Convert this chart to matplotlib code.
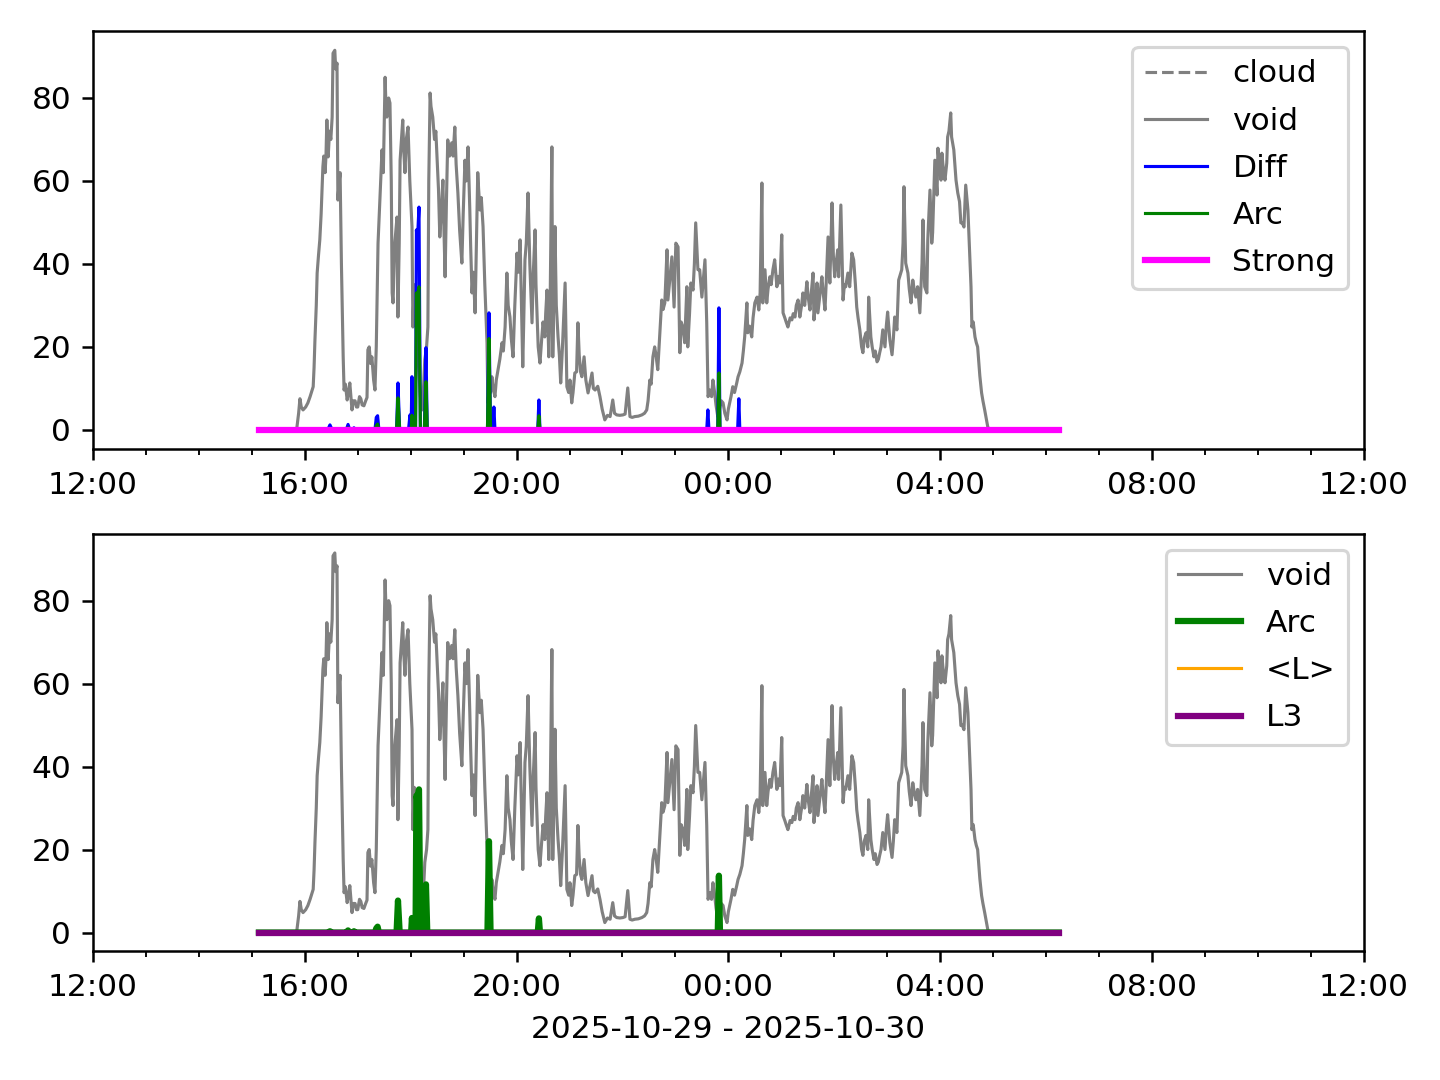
import matplotlib
matplotlib.use("Agg")
import matplotlib.pyplot as plt
import matplotlib.dates as mdates
import pandas as pd

# ---- data (minutes after 2025-10-29 12:00, value) ----
void_samples = [
    (188, 0), (229, 0), (231, 0.5), (233, 4), (234.5, 7.5), (236, 5.5), (238, 4.8), (241, 5.5),
    (243.5, 6.5), (246, 8), (249.5, 10.4), (250.5, 15), (251.5, 21.7), (253, 30), (254, 37.8),
    (255.5, 42), (257, 45.8), (258.5, 52), (260.5, 63.4), (261.5, 66), (263, 62), (264, 66),
    (265, 74.7), (266.5, 65.8), (268, 72), (269.5, 70), (271, 75.4), (272, 90.8), (274, 91.5),
    (275, 87), (276.5, 88.4), (277.5, 55.4), (279, 60), (280, 62), (281.5, 40), (283.5, 17.6),
    (284.5, 9.6), (286, 11), (288, 7.2), (289.5, 9), (291, 11.3), (293.5, 4.8), (295, 7),
    (297, 7), (298.5, 5.5), (300, 5.5), (302, 8), (303.5, 7.5), (305, 6), (307, 5.8), (309, 7),
    (310.5, 7.8), (311.5, 19.3), (313, 20), (314.5, 16), (316, 17.6), (318, 12), (319.5, 9.6),
    (321, 20), (323, 45), (325, 55), (327.5, 67.5), (329, 62), (331, 85), (332, 78), (333, 75.4),
    (335, 80), (336.5, 78.8), (338, 60), (339, 33), (340, 30.6), (342, 45), (344.5, 51.3),
    (345.5, 27.2), (347, 45), (348, 65), (349.5, 70), (351, 74.7), (352, 68), (353.5, 62),
    (355, 70), (357, 73), (359, 60), (361.5, 48.9), (362.5, 24.8), (364, 35), (365.5, 30),
    (367, 21), (369, 15), (371, 8), (373, 4.8), (374.5, 10), (376, 16.9), (378, 20), (379.5, 24.8),
    (380.5, 60), (382, 81.2), (383, 78), (385, 75.4), (387, 70), (388.5, 72), (390, 65), (391.5, 58),
    (393, 46.5), (394.5, 52), (396.5, 60.2), (397.5, 50), (399, 36.9), (400.5, 55), (402, 69.9),
    (404, 66), (406.5, 69.2), (408, 66), (410, 73), (411.5, 64), (413.5, 57.1), (415.5, 48),
    (418, 40.2), (419.5, 52), (421.5, 65), (423, 60), (425, 68.2), (427, 53), (428, 44), (429.5, 33),
    (431, 38), (433, 28.2), (434.5, 45), (436, 62), (437, 58), (438.5, 53), (440, 56), (442, 49),
    (444, 35), (446.5, 21), (447.5, 6.5), (449, 10), (450.5, 9), (452, 12.8), (453.5, 10),
    (455.5, 8), (457, 12), (459, 14.5), (461, 17), (463.5, 21), (465, 19), (467, 24.8), (469, 37.8),
    (470.5, 30), (472.5, 27.2), (474, 22), (476, 17.6), (478, 30), (480.5, 42.6), (482, 38),
    (484, 45.8), (485.5, 30), (487, 15.2), (488, 25), (489.5, 41), (491, 45), (493, 57.1),
    (495, 40), (497.5, 25.8), (499, 38), (501, 48.2), (502, 35), (503, 28.9), (504.5, 20),
    (506.5, 16.1), (508.5, 22), (510, 26), (512, 22.4), (513, 28), (514.5, 33.7), (516.5, 17.6),
    (518, 30), (520, 68.2), (521, 17.6), (522, 30), (523.5, 49), (525, 30), (527, 22.4), (528.5, 18),
    (530, 11.3), (532, 20), (535, 35.4), (537, 10.4), (539, 9), (540.5, 12), (542.5, 6.5),
    (544, 9), (546, 13.7), (548, 14), (549.5, 25.8), (551, 18), (552.5, 14), (554, 12.8),
    (556.5, 17.6), (558.5, 12), (561, 8.9), (563, 11), (565.5, 13.7), (567, 10), (569, 9.6),
    (572, 10.5), (574.5, 8), (577, 5), (580, 2.4), (583, 3.5), (586, 3.2), (589, 7.2), (591, 4),
    (593.5, 3.6), (597, 3.5), (600.5, 3.6), (603, 3.8), (606, 10.1), (608.5, 3.2), (611, 3),
    (614, 3.2), (618, 3.3), (622, 3.6), (625, 4), (627.5, 4.8), (629, 7), (631, 12), (632.5, 11),
    (634.5, 17.6), (636.5, 20), (638, 18), (640, 14.5), (642, 22), (644.5, 31.3), (646, 29),
    (648, 30.6), (650.5, 43.4), (651.5, 31.3), (653.5, 36), (656, 41.7), (658.5, 29.6), (660.5, 45),
    (663, 44.1), (665, 18.6), (666.5, 26), (668.5, 24.8), (670.5, 21), (673, 34.5), (674, 20),
    (676, 28), (677.5, 35.4), (680, 33.7), (681.5, 40), (683, 49.9), (685.5, 38.6), (687.5, 38.6),
    (690, 32), (691.5, 36), (693.5, 41), (695.5, 25.8), (697, 8), (699, 9.6), (701, 8), (702.5, 12),
    (704.5, 8.9), (706, 6), (708, 3.2), (710, 5), (712, 7), (714, 6.5), (716, 4), (718.5, 2.4),
    (720, 5), (721.5, 6.5), (723, 8), (725, 10.4), (727, 9), (729.5, 11.3), (731, 12.8), (733, 14),
    (735.5, 16.1), (737, 19), (738.5, 22.4), (741, 30.6), (742, 23.4), (744, 25), (746.5, 22.4),
    (748, 27), (750, 30.6), (752.5, 32), (754.5, 28.9), (756, 33), (758, 59.5), (759, 30.6),
    (761.5, 38.6), (763.5, 30.6), (765, 34), (767, 36.9), (768.5, 35), (770.5, 38.6), (772.5, 41),
    (775, 34.5), (776.5, 37), (778.5, 35.4), (780.5, 47), (782, 28.2), (784, 27), (785.5, 26),
    (787.5, 24.8), (790, 27), (792, 26.5), (793.5, 28), (795.5, 27.2), (797, 30), (799, 31.3),
    (801, 27.2), (803, 30), (804.5, 33), (806.5, 30), (809, 35.7), (810.5, 32), (812.5, 28.9),
    (814, 33), (816, 37.8), (817, 26.5), (819, 31), (820.5, 35.4), (821.5, 28.2), (824, 33),
    (826, 36.9), (827.5, 33), (829.5, 28.9), (831, 36), (833, 46.5), (835, 35.4), (837.5, 54.7),
    (839, 42), (840.5, 36.9), (842, 40), (844, 43.4), (845, 36.9), (847.5, 54.2), (850, 31.3),
    (851.5, 35), (853, 34.5), (855.5, 37.8), (857.5, 34.5), (860, 42.6), (862, 41), (864, 35),
    (865.5, 29.6), (867, 27), (869, 24.1), (871, 20), (872.5, 18.6), (874, 22), (876, 23.4),
    (878, 20), (879, 32), (881.5, 22.4), (883, 20), (885, 17.6), (886.5, 19), (888.5, 16.4),
    (890, 17), (891.5, 18.6), (893, 20), (895, 24.1), (897.5, 20), (899, 25), (900.5, 28.4),
    (903, 21.7), (905.5, 18.1), (907, 22), (908.5, 27.2), (911, 24.1), (913, 36.1), (916.5, 38.6),
    (918, 45), (919, 58.6), (921, 40.2), (923.5, 37.8), (925, 34), (927, 30.6), (929, 36.1),
    (930.5, 34), (932.5, 32), (934.5, 34.5), (937, 28.2), (939.5, 40.2), (940.5, 50.6),
    (942.5, 34.5), (945, 33), (946, 45.8), (948.5, 57.8), (950.5, 45), (951.5, 47.5), (954, 65),
    (956.5, 56.6), (957.5, 67.9), (959, 64), (961, 60.2), (962, 66.7), (964, 62), (965.5, 60.2),
    (967.5, 64.3), (968.5, 70.6), (970, 72), (972, 76.4), (973, 70.6), (975.5, 67.5), (978, 60.2),
    (980, 57.1), (982, 55), (983.5, 49.9), (985, 50), (987, 48.9), (989, 59), (991.5, 53),
    (993, 45), (995, 34.5), (996, 24.8), (997.5, 26), (999.5, 22.4), (1001, 21), (1002.5, 20),
    (1005, 13), (1007, 8.9), (1008.5, 7), (1010.5, 4.8), (1012, 3), (1014, 0.7), (1016, 0),
    (1094.5, 0),
]

diff_samples = [
    (188, 0), (266, 0), (268.5, 1.2), (271, 0), (287, 0), (289, 1.3), (291, 0), (294, 0),
    (295.7, 0.5), (297.5, 0), (319.5, 0), (321, 3.0), (322.5, 3.4), (324, 0), (344, 0),
    (345.6, 11.3), (347.5, 0), (357.5, 0), (359.2, 3.6), (360.3, 0), (360.5, 0), (361.4, 12.8),
    (362.5, 0), (365.5, 0), (366.5, 48.2), (367.5, 45), (369.4, 53.7), (371, 0), (375.5, 0),
    (377.3, 19.8), (378.8, 0), (447, 0), (448.7, 28.2), (450.5, 0), (453, 0), (454.3, 5.5),
    (455.5, 0), (504, 0), (505.3, 7.2), (506.5, 0), (695.5, 0), (696.8, 4.8), (698, 0),
    (708, 0), (709.3, 29.4), (710.5, 0), (730.5, 0), (731.9, 7.5), (733, 0), (1094.5, 0),
]

arc_samples = [
    (188, 0), (266, 0), (268.5, 0.3), (271, 0), (287, 0), (289, 0.5), (291, 0), (294, 0),
    (295.7, 0.3), (297.5, 0), (319.5, 0), (321, 1.0), (322.5, 1.4), (324, 0), (344, 0),
    (345.6, 7.7), (347.5, 0), (360.5, 0), (361.4, 3.5), (362.5, 0), (365.5, 0), (366.5, 33),
    (367.5, 32), (369.4, 34.5), (371, 0), (375.5, 0), (377.3, 11.6), (378.8, 0), (447, 0),
    (448.7, 22), (450.5, 0), (504, 0), (505.3, 3.4), (506.5, 0), (708, 0), (709.3, 13.7),
    (710.5, 0), (1094.5, 0),
]

flat_samples = [(188, 0), (1094.5, 0)]   # cloud, Strong, <L>, L3 all zero

x_range = ("2025-10-29 12:00", "2025-10-30 12:00")
xlabel = "2025-10-29 - 2025-10-30"

base = pd.Timestamp("2025-10-29 12:00")


def series(samples):
    t = [base + pd.Timedelta(minutes=m) for m, _ in samples]
    v = [val for _, val in samples]
    return t, v


plt.rcParams["font.family"] = ["DejaVu Sans"]
fig, (ax1, ax2) = plt.subplots(2, 1, figsize=(6.4, 4.8), dpi=225)
fig.subplots_adjust(left=0.0646, right=0.947, top=0.971, bottom=0.119, hspace=0.204)

vt, vv = series(void_samples)
dt, dv = series(diff_samples)
at, av = series(arc_samples)
ft, fv = series(flat_samples)

ax1.plot(ft, fv, color="gray", lw=1, ls="--", label="cloud")
ax1.plot(vt, vv, color="gray", lw=1, label="void")
ax1.plot(dt, dv, color="blue", lw=1, label="Diff")
ax1.plot(at, av, color="green", lw=1, label="Arc")
ax1.plot(ft, fv, color="magenta", lw=2, label="Strong")
ax1.legend(loc="upper right", labelspacing=0.58)

ax2.plot(vt, vv, color="gray", lw=1, label="void")
ax2.plot(at, av, color="green", lw=2, label="Arc")
ax2.plot(ft, fv, color="orange", lw=1, label="<L>")
ax2.plot(ft, fv, color="purple", lw=2, label="L3")
ax2.legend(loc="upper right", labelspacing=0.58)
ax2.set_xlabel(xlabel)

for ax in (ax1, ax2):
    ax.set_xlim(pd.Timestamp(x_range[0]), pd.Timestamp(x_range[1]))
    ax.xaxis.set_major_locator(mdates.HourLocator(byhour=[0, 4, 8, 12, 16, 20]))
    ax.xaxis.set_major_formatter(mdates.DateFormatter("%H:%M"))
    ax.xaxis.set_minor_locator(mdates.HourLocator())

fig.savefig("out.png", dpi=225)
